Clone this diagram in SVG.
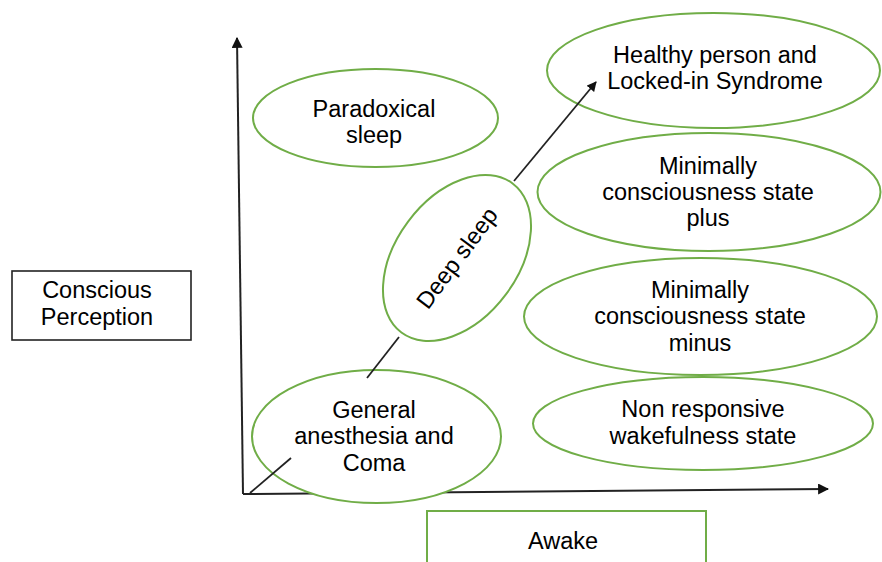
<svg xmlns="http://www.w3.org/2000/svg" width="882" height="562" viewBox="0 0 882 562">
<style>
.node{fill:#fff;stroke:#70ad47;stroke-width:2}
.box{fill:#fff;stroke:#222;stroke-width:1.6}
.t{font-family:"Liberation Sans",Arial,sans-serif;font-size:23.5px;fill:#000;text-anchor:middle}
.ax{stroke:#222;stroke-width:2;fill:none}
.ln{stroke:#222;stroke-width:1.8;fill:none}
</style>
<defs>
<marker id="ah" viewBox="0 0 10 10" refX="9" refY="5" markerWidth="5.5" markerHeight="5.5" orient="auto" markerUnits="strokeWidth">
<path d="M0,0 L10,5 L0,10 z" fill="#111"/>
</marker>
</defs>
<g id="axes">
<line class="ax" x1="243" y1="494" x2="237" y2="38" marker-end="url(#ah)"/>
<line class="ax" x1="243" y1="494" x2="828" y2="489" marker-end="url(#ah)"/>
</g>
<g id="conscious-perception">
<rect class="box" x="12" y="271" width="179" height="69"/>
<text class="t" x="97" y="297.5">Conscious</text>
<text class="t" x="97" y="325">Perception</text>
</g>
<g id="awake">
<rect x="427" y="511" width="279" height="60" fill="#fff" stroke="#70ad47" stroke-width="2"/>
<text class="t" x="563" y="548.5">Awake</text>
</g>
<g id="paradoxical-sleep">
<ellipse class="node" cx="375.5" cy="118" rx="122.5" ry="49"/>
<text class="t" x="374" y="117">Paradoxical</text>
<text class="t" x="374" y="143">sleep</text>
</g>
<g id="healthy">
<ellipse class="node" cx="713.5" cy="70.5" rx="166.5" ry="57.5"/>
<text class="t" x="715" y="63">Healthy person and</text>
<text class="t" x="715" y="89">Locked-in Syndrome</text>
</g>
<g id="mcs-plus">
<ellipse class="node" cx="709" cy="192" rx="171.5" ry="59"/>
<text class="t" x="708" y="173.5">Minimally</text>
<text class="t" x="708" y="199.5">consciousness state</text>
<text class="t" x="708" y="225.5">plus</text>
</g>
<g id="mcs-minus">
<ellipse class="node" cx="700.5" cy="316.5" rx="176.5" ry="58.5"/>
<text class="t" x="700" y="297.5">Minimally</text>
<text class="t" x="700" y="324">consciousness state</text>
<text class="t" x="700" y="350.5">minus</text>
</g>
<g id="non-responsive">
<ellipse class="node" cx="703" cy="423.5" rx="170" ry="46.5"/>
<text class="t" x="703" y="417">Non responsive</text>
<text class="t" x="703" y="443.5">wakefulness state</text>
</g>
<g id="deep-sleep">
<ellipse class="node" cx="457" cy="258" rx="93" ry="61" transform="rotate(-53.3 457 258)"/>
<text class="t" x="457" y="266" transform="rotate(-53.3 457 258)">Deep sleep</text>
</g>
<g id="general-anesthesia">
<ellipse class="node" cx="376.5" cy="436.5" rx="124.5" ry="66.5"/>
<text class="t" x="374" y="417.5">General</text>
<text class="t" x="374" y="444">anesthesia and</text>
<text class="t" x="374" y="470.5">Coma</text>
</g>
<g id="connectors">
<line class="ln" x1="250" y1="493" x2="291" y2="458"/>
<line class="ln" x1="367" y1="378" x2="399" y2="337"/>
<line class="ln" x1="514" y1="181" x2="596" y2="82" marker-end="url(#ah)"/>
</g>
</svg>
